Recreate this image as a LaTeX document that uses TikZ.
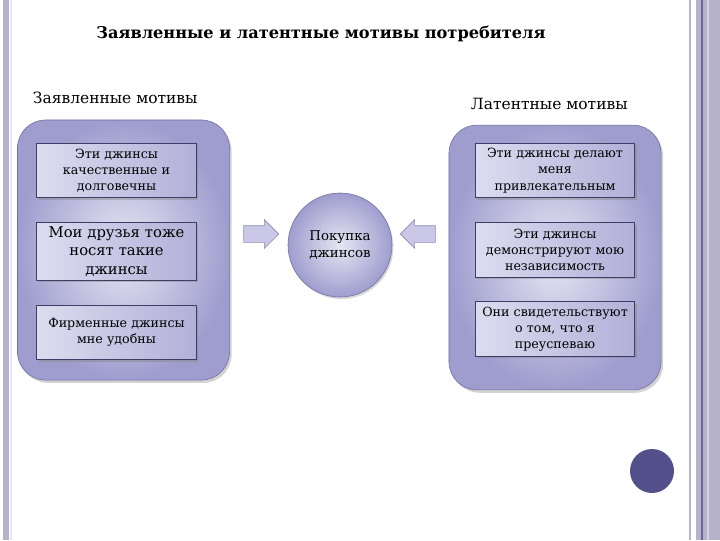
\documentclass[tikz,border=0pt]{standalone}
\usepackage{fontspec}
\setmainfont{DejaVu Serif}
\usetikzlibrary{positioning,shapes.arrows,shadows}
\definecolor{lav}{HTML}{9F9DCE}
\definecolor{lavlt}{HTML}{E6E6F3}
\definecolor{grpline}{HTML}{6F6DA2}
\definecolor{boxline}{HTML}{3E3D66}
\definecolor{boxlt}{HTML}{DCDCF0}
\definecolor{boxdk}{HTML}{B2B0D8}
\definecolor{arrfill}{HTML}{CAC8E6}
\definecolor{arrline}{HTML}{8C8AB2}
\definecolor{edge}{HTML}{B6B2CA}
\definecolor{edgelt}{HTML}{E9E7F1}
\definecolor{edgedk}{HTML}{6A64A0}
\definecolor{dot}{HTML}{54508C}
\tikzset{
  grp/.style={draw=grpline,rounded corners=20pt,shade,inner color=lavlt,outer color=lav,
    minimum width=5.3cm,minimum height=6.5cm,drop shadow={shadow xshift=1.5pt,shadow yshift=-2pt,opacity=0.35}},
  mbox/.style={draw=boxline,semithick,shade,left color=boxlt,right color=boxdk,text width=3.78cm,
    minimum height=1.36cm,align=center,inner sep=3pt,font=\fontsize{9}{11.5}\selectfont,
    drop shadow={shadow xshift=1.5pt,shadow yshift=-1.5pt,opacity=0.4}},
  barr/.style={single arrow,draw=arrline,fill=arrfill,minimum height=0.875cm,minimum width=0.7cm,
    inner sep=0.2cm,single arrow head extend=0.15cm},
  lbl/.style={anchor=west,font=\fontsize{11}{13}\selectfont},
}
\begin{document}
\begin{tikzpicture}[x=0.025cm,y=-0.025cm,node distance=0.6cm]
\useasboundingbox (0,0) rectangle (720,540);
% slide frame
\fill[edge] (3,0) rectangle (9,540);
\fill[edgelt] (10,0) rectangle (12,540);
\fill[edge] (689,0) rectangle (691,540);
\fill[edge] (696,0) rectangle (720,540);
\fill[edgedk] (701,0) rectangle (703,540);
\fill[edgelt!60!edge] (707,0) rectangle (709,540);

\node[font=\fontsize{11.5}{14}\selectfont\bfseries] (title) at (321,34) {Заявленные и латентные мотивы потребителя};
\node[lbl] (lhead) at (28,98) {Заявленные мотивы};
\node[lbl] (rhead) at (466,104) {Латентные мотивы};

% groups
\node[grp] (lgrp) at (123.5,250) {};
\node[grp,minimum height=6.62cm] (rgrp) at (555,257.5) {};

\node[mbox] (l1) at (116.5,170.5) {Эти джинсы\\качественные и\\долговечны};
\node[mbox,below=0.6cm of l1,font=\fontsize{10.5}{13}\selectfont] (l2) {Мои друзья тоже\\носят такие\\джинсы};
\node[mbox,below=0.6cm of l2] (l3) {Фирменные джинсы\\мне удобны};

\node[mbox] (r1) at (555,170.5) {Эти джинсы делают\\меня\\привлекательным};
\node[mbox,below=of r1] (r2) {Эти джинсы\\демонстрируют мою\\независимость};
\node[mbox,below=of r2] (r3) {Они свидетельствуют\\о том, что я\\преуспеваю};

% centre
\node[circle,draw=grpline,shade,inner color=lavlt,outer color=lav,minimum size=2.6cm,align=center,
  font=\fontsize{9.5}{12}\selectfont,drop shadow={shadow xshift=1pt,shadow yshift=-1.5pt,opacity=0.3}] (buy) at (340,245) {Покупка\\джинсов};
\node[barr] (arrl) at (257,234) {};
\node[barr,shape border rotate=180] (arrr) at (422,234) {};

\fill[dot] (652,471) circle (22);
\end{tikzpicture}
\end{document}
